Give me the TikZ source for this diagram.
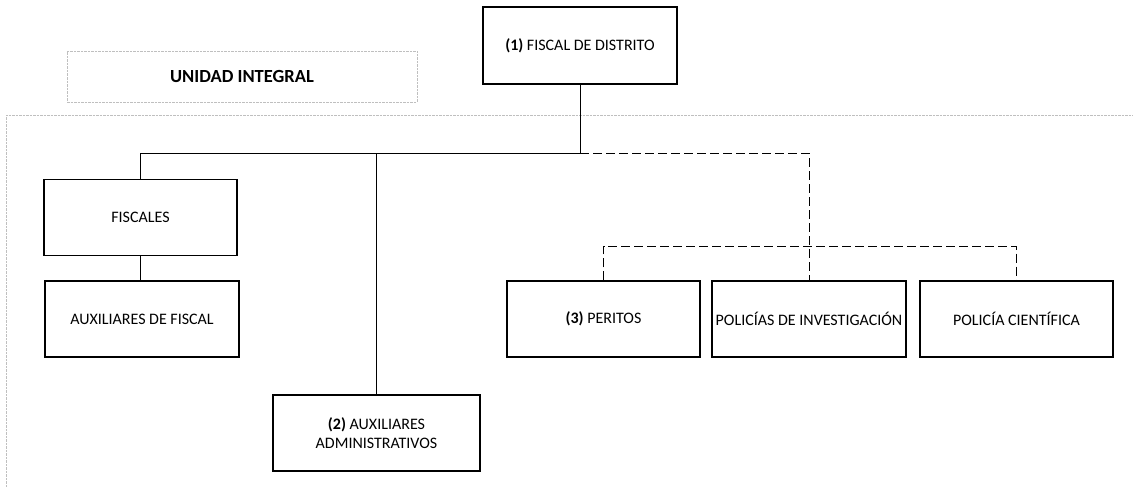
\documentclass[tikz,border=0pt]{standalone}
\usepackage{fontspec}
\setmainfont{Carlito}
\usepackage{tikz}
\usetikzlibrary{positioning}

\tikzset{
  cargo/.style={draw, line width=1.1pt, minimum width=193pt, minimum height=76pt,
    inner sep=0pt, align=center, font=\fontsize{16}{19.5}\selectfont},
  linea/.style={line width=1pt},
  rayas/.style={line width=1pt, dash pattern=on 9pt off 4pt},
  zona/.style={draw=gray!50, line width=0.9pt, dash pattern=on 2.5pt off 1pt}
}

\begin{document}
\begin{tikzpicture}[x=1pt, y=-1pt]
\useasboundingbox (0,0) rectangle (1133,487);

% Unidad integral
\draw[zona] (6,487) -- (6,115) -- (1133,115);
\node[cargo, zona, minimum width=350pt, minimum height=51pt, font=\fontsize{18.5}{22}\selectfont\bfseries]
  (uni) at (242,76.5) {UNIDAD INTEGRAL};

% Cargos
\node[cargo, minimum width=194pt, minimum height=77pt] (fd) at (580,45.5) {\textbf{(1)} FISCAL DE DISTRITO};
\node[cargo] (fis) at (140.5,217.5) {FISCALES};
\node[cargo, minimum width=194pt] (aux) at (142,319) {AUXILIARES DE FISCAL};
\node[cargo, minimum width=207pt] (adm) at (376.5,433) {\textbf{(2)} AUXILIARES\\ADMINISTRATIVOS};
\node[cargo] (per) at (603.5,319) {\textbf{(3)} PERITOS};
\node[cargo, minimum width=194pt] (pol) at (809,319) {POLIC\'IAS DE INVESTIGACI\'ON};
\node[cargo] (cie) at (1016.5,319) {POLIC\'IA CIENT\'IFICA};

% Lineas
\coordinate (bus) at (580,153);
\coordinate (peri) at (809,246);
\draw[linea] (fd.south) -- (bus);
\draw[linea] (fis.north) |- (bus);
\draw[linea] (adm.north) -- (adm.north |- bus);
\draw[linea] (fis.south) -- (aux.north -| fis.south);
\draw[rayas] (bus) -| (pol.north);
\draw[rayas] (per.north) |- (cie.north |- peri) -- (cie.north);

\end{tikzpicture}
\end{document}
